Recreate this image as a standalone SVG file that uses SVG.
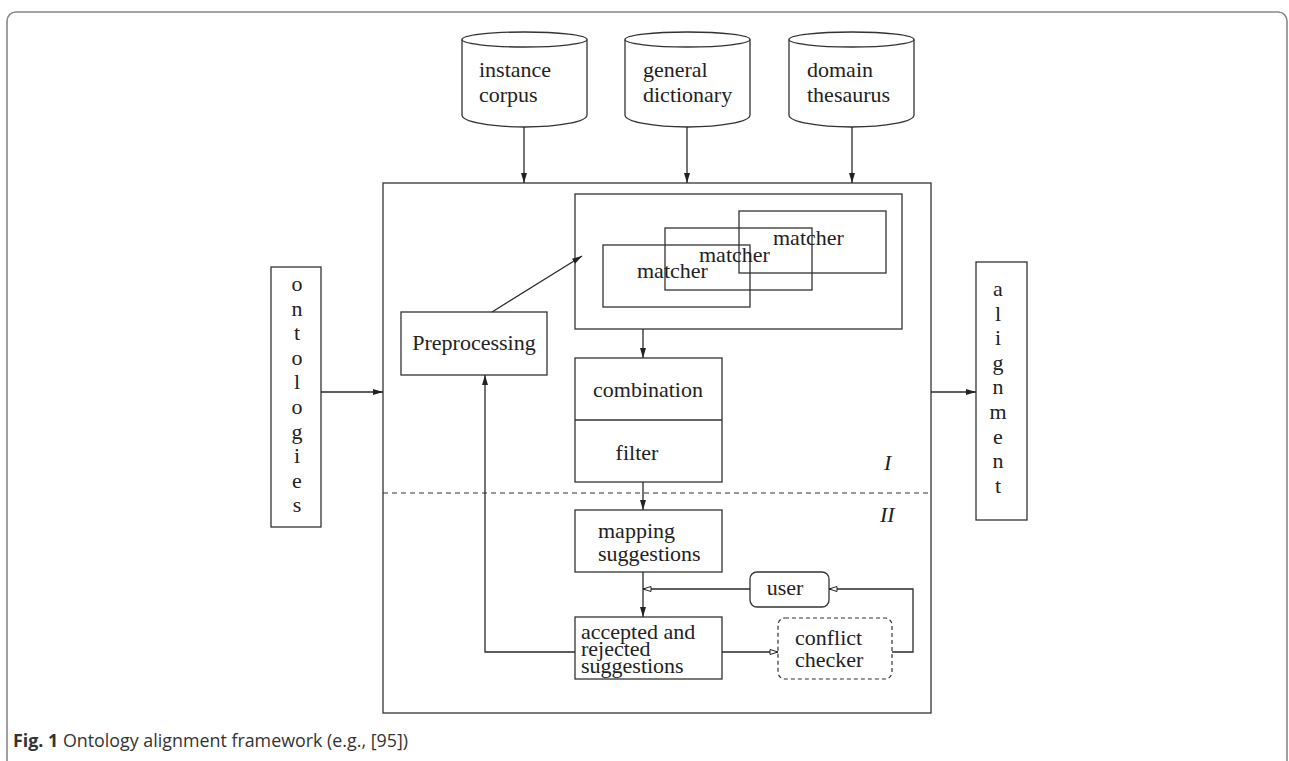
<svg xmlns="http://www.w3.org/2000/svg" width="1289" height="761" viewBox="0 0 1289 761">
<style>
.ln{fill:none;stroke:#2a2a2a;stroke-width:1.3}
.bx{fill:none;stroke:#333;stroke-width:1.3}
.t{font-family:"Liberation Serif","Times New Roman",serif;font-size:22px;fill:#222}
.it{font-style:italic}
.cap{font-family:"Open Sans","Noto Sans","Liberation Sans",sans-serif;font-size:18px;fill:#333}
</style>
<defs>
<marker id="af" markerWidth="11" markerHeight="8" refX="10" refY="4" orient="auto" markerUnits="userSpaceOnUse">
<path d="M0,1 L10,4 L0,7 Z" fill="#222"/>
</marker>
<marker id="ah" markerWidth="11" markerHeight="8" refX="9" refY="4" orient="auto" markerUnits="userSpaceOnUse">
<path d="M1,1.5 L9,4 L1,6.5 Z" fill="#fff" stroke="#222" stroke-width="1"/>
</marker>
</defs>
<rect x="7" y="12" width="1280" height="800" rx="9" fill="#fff" stroke="#888" stroke-width="1.6"/>

<g id="instance-corpus">
<path class="bx" d="M462,39.5 V115 A62.5,12 0 0 0 587,115 V39.5"/>
<ellipse class="bx" cx="524.5" cy="39.5" rx="62.5" ry="7.5"/>
<text class="t" x="479" y="77">instance</text>
<text class="t" x="479" y="102">corpus</text>
</g>
<g id="general-dictionary">
<path class="bx" d="M625,39.5 V115 A62.5,12 0 0 0 750,115 V39.5"/>
<ellipse class="bx" cx="687.5" cy="39.5" rx="62.5" ry="7.5"/>
<text class="t" x="643" y="77">general</text>
<text class="t" x="643" y="102">dictionary</text>
</g>
<g id="domain-thesaurus">
<path class="bx" d="M789,39.5 V115 A62.5,12 0 0 0 914,115 V39.5"/>
<ellipse class="bx" cx="851.5" cy="39.5" rx="62.5" ry="7.5"/>
<text class="t" x="807" y="77">domain</text>
<text class="t" x="807" y="102">thesaurus</text>
</g>

<g id="main-frame">
<rect class="bx" x="383" y="183" width="548" height="530"/>
<line x1="383" y1="493" x2="931" y2="493" stroke="#333" stroke-width="1.2" stroke-dasharray="5,4"/>
<text class="t it" x="884" y="470">I</text>
<text class="t it" x="880" y="522">II</text>
</g>

<g id="ontologies">
<rect class="bx" x="271" y="267" width="50" height="260"/>
<text class="t" text-anchor="middle">
<tspan x="297" y="291">o</tspan><tspan x="297" y="315.6">n</tspan><tspan x="297" y="340.2">t</tspan><tspan x="297" y="364.8">o</tspan><tspan x="297" y="389.4">l</tspan><tspan x="297" y="414">o</tspan><tspan x="297" y="438.6">g</tspan><tspan x="297" y="463.2">i</tspan><tspan x="297" y="487.8">e</tspan><tspan x="297" y="512.4">s</tspan>
</text>
</g>

<g id="alignment">
<rect class="bx" x="976" y="262" width="51" height="258"/>
<text class="t" text-anchor="middle">
<tspan x="998" y="296">a</tspan><tspan x="998" y="320.6">l</tspan><tspan x="998" y="345.2">i</tspan><tspan x="998" y="369.8">g</tspan><tspan x="998" y="394.4">n</tspan><tspan x="998" y="419">m</tspan><tspan x="998" y="443.6">e</tspan><tspan x="998" y="468.2">n</tspan><tspan x="998" y="492.8">t</tspan>
</text>
</g>

<g id="preprocessing">
<rect class="bx" x="401" y="312" width="146" height="63"/>
<text class="t" x="474" y="350" text-anchor="middle">Preprocessing</text>
</g>

<g id="matchers">
<rect class="bx" x="575" y="194" width="327" height="135"/>
<rect class="bx" x="603" y="245" width="147" height="62"/>
<rect class="bx" x="665" y="228" width="147" height="62"/>
<rect class="bx" x="739" y="211" width="147" height="62"/>
<text class="t" x="637" y="278">matcher</text>
<text class="t" x="699" y="262">matcher</text>
<text class="t" x="773" y="245">matcher</text>
</g>

<g id="combination-filter">
<rect class="bx" x="575" y="358" width="147" height="124"/>
<line class="bx" x1="575" y1="420" x2="722" y2="420"/>
<text class="t" x="648" y="397" text-anchor="middle">combination</text>
<text class="t" x="637" y="460" text-anchor="middle">filter</text>
</g>

<g id="mapping-suggestions">
<rect class="bx" x="575" y="510" width="147" height="62"/>
<text class="t" x="598" y="538">mapping</text>
<text class="t" x="598" y="561">suggestions</text>
</g>

<g id="user">
<rect class="bx" x="750" y="572" width="79" height="35" rx="7"/>
<text class="t" x="785" y="595" text-anchor="middle">user</text>
</g>

<g id="accepted-rejected">
<rect class="bx" x="575" y="617" width="147" height="62"/>
<text class="t" x="581" y="639">accepted and</text>
<text class="t" x="581" y="656">rejected</text>
<text class="t" x="581" y="673">suggestions</text>
</g>

<g id="conflict-checker">
<rect x="778" y="618" width="114" height="61" rx="7" fill="none" stroke="#333" stroke-width="1.2" stroke-dasharray="4,3"/>
<text class="t" x="795" y="645">conflict</text>
<text class="t" x="795" y="667">checker</text>
</g>

<g id="connectors">
<line class="ln" x1="524" y1="127" x2="524" y2="183" marker-end="url(#af)"/>
<line class="ln" x1="687" y1="127" x2="687" y2="183" marker-end="url(#af)"/>
<line class="ln" x1="852" y1="127" x2="852" y2="183" marker-end="url(#af)"/>
<line class="ln" x1="321" y1="392" x2="383" y2="392" marker-end="url(#af)"/>
<line class="ln" x1="931" y1="392" x2="976" y2="392" marker-end="url(#af)"/>
<line class="ln" x1="492" y1="312" x2="582" y2="256" marker-end="url(#af)"/>
<line class="ln" x1="643" y1="329" x2="643" y2="358" marker-end="url(#af)"/>
<line class="ln" x1="643" y1="482" x2="643" y2="510" marker-end="url(#af)"/>
<line class="ln" x1="643" y1="572" x2="643" y2="617" marker-end="url(#af)"/>
<line class="ln" x1="750" y1="589" x2="643" y2="589" marker-end="url(#ah)"/>
<polyline class="ln" points="892,652 913,652 913,589 829,589" marker-end="url(#ah)"/>
<line class="ln" x1="722" y1="652" x2="778" y2="652" marker-end="url(#ah)"/>
<polyline class="ln" points="575,652 485,652 485,375" marker-end="url(#af)"/>
</g>

<text class="cap" x="13" y="747" textLength="395" lengthAdjust="spacingAndGlyphs"><tspan font-weight="bold">Fig. 1</tspan> Ontology alignment framework (e.g., [95])</text>
</svg>
